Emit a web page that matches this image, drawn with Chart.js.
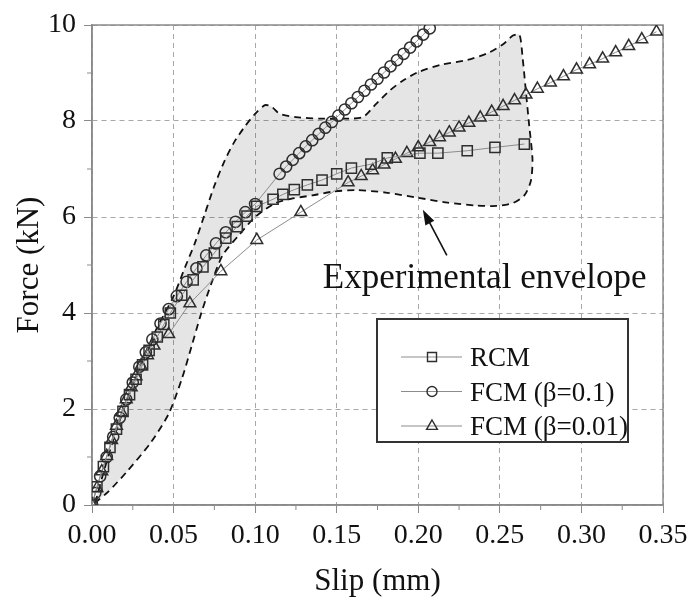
<!DOCTYPE html>
<html>
<head>
<meta charset="utf-8">
<script src="https://cdn.jsdelivr.net/npm/chart.js@4.4.1/dist/chart.umd.min.js"></script>
<style>
body { margin: 0; background: #fff; }
#wrap { width: 696px; height: 604px; }
</style>
</head>
<body>
<div id="wrap"><canvas id="myChart"></canvas></div>
<script>
// RCM (squares)
var rcmSlip = [0, 0.003, 0.007, 0.011, 0.015, 0.019, 0.023, 0.027, 0.031, 0.035, 0.040, 0.044, 0.048, 0.055, 0.062, 0.068, 0.075, 0.082, 0.089, 0.095, 0.101, 0.111, 0.117, 0.124, 0.132, 0.141, 0.150, 0.159, 0.171, 0.181, 0.201, 0.212, 0.230, 0.247, 0.265];
var rcmForce = [0, 0.38, 0.80, 1.20, 1.58, 1.95, 2.30, 2.62, 2.92, 3.22, 3.50, 3.76, 4.00, 4.37, 4.69, 4.96, 5.25, 5.56, 5.80, 6.02, 6.22, 6.37, 6.47, 6.57, 6.67, 6.77, 6.90, 7.02, 7.10, 7.23, 7.33, 7.33, 7.38, 7.45, 7.52];

// FCM beta=0.1 (circles)
var fcm1Slip = [0, 0.002, 0.005, 0.009, 0.013, 0.017, 0.021, 0.025, 0.029, 0.033, 0.037, 0.042, 0.047, 0.052, 0.058, 0.064, 0.070, 0.076, 0.082, 0.088, 0.094, 0.100, 0.115, 0.119, 0.123, 0.127, 0.131, 0.135, 0.139, 0.143, 0.147, 0.151, 0.155, 0.159, 0.163, 0.167, 0.171, 0.175, 0.179, 0.183, 0.187, 0.191, 0.195, 0.199, 0.203, 0.207];
var fcm1Force = [0, 0.25, 0.60, 1.00, 1.42, 1.82, 2.20, 2.55, 2.88, 3.18, 3.45, 3.78, 4.08, 4.35, 4.65, 4.93, 5.20, 5.45, 5.68, 5.90, 6.10, 6.27, 6.90, 7.05, 7.19, 7.33, 7.47, 7.60, 7.73, 7.86, 7.98, 8.11, 8.24, 8.37, 8.50, 8.63, 8.76, 8.88, 9.01, 9.14, 9.27, 9.40, 9.53, 9.66, 9.80, 9.93];

// FCM beta=0.01 (triangles)
var fcm2Slip = [0, 0.003, 0.006, 0.009, 0.012, 0.015, 0.018, 0.021, 0.024, 0.027, 0.030, 0.034, 0.038, 0.047, 0.060, 0.079, 0.101, 0.128, 0.157, 0.165, 0.172, 0.179, 0.186, 0.193, 0.200, 0.207, 0.213, 0.219, 0.225, 0.231, 0.238, 0.245, 0.252, 0.259, 0.266, 0.273, 0.281, 0.289, 0.297, 0.305, 0.313, 0.321, 0.329, 0.337, 0.346];
var fcm2Force = [0, 0.35, 0.70, 1.02, 1.35, 1.65, 1.93, 2.20, 2.45, 2.68, 2.90, 3.12, 3.32, 3.56, 4.20, 4.87, 5.52, 6.10, 6.72, 6.85, 6.97, 7.09, 7.21, 7.33, 7.45, 7.56, 7.66, 7.76, 7.86, 7.96, 8.07, 8.19, 8.31, 8.43, 8.55, 8.67, 8.80, 8.93, 9.07, 9.18, 9.30, 9.43, 9.56, 9.70, 9.86];

// experimental envelope outline (closed)
var envSlip = [0.002, 0.006, 0.012, 0.020, 0.030, 0.040, 0.050, 0.057, 0.063, 0.069, 0.075, 0.081, 0.087, 0.094, 0.100, 0.106, 0.110, 0.115, 0.125, 0.140, 0.155, 0.166, 0.174, 0.182, 0.190, 0.200, 0.215, 0.230, 0.243, 0.252, 0.258, 0.262, 0.264, 0.266, 0.268, 0.270, 0.269, 0.265, 0.258, 0.248, 0.235, 0.218, 0.200, 0.180, 0.162, 0.148, 0.135, 0.122, 0.112, 0.100, 0.090, 0.080, 0.073, 0.067, 0.061, 0.055, 0.047, 0.036, 0.021, 0.010, 0.002];
var envForce = [0.05, 0.55, 1.25, 2.05, 2.95, 3.70, 4.35, 4.95, 5.45, 6.05, 6.65, 7.15, 7.55, 7.90, 8.15, 8.33, 8.30, 8.15, 8.08, 8.05, 8.05, 8.08, 8.35, 8.62, 8.83, 9.02, 9.18, 9.27, 9.42, 9.60, 9.78, 9.80, 9.30, 8.60, 7.90, 7.20, 6.75, 6.45, 6.29, 6.23, 6.24, 6.30, 6.40, 6.51, 6.56, 6.53, 6.45, 6.38, 6.28, 6.00, 5.62, 5.20, 4.60, 4.00, 3.30, 2.62, 1.90, 1.30, 0.68, 0.28, 0.05];

var seriesNames = ['RCM', 'FCM (\u03b2=0.1)', 'FCM (\u03b2=0.01)'];
var seriesStyles = ['rect', 'circle', 'triangle'];
var xTicks = [0, 0.05, 0.10, 0.15, 0.20, 0.25, 0.30, 0.35];
var yTicks = [0, 2, 4, 6, 8, 10];
var noteText = 'Experimental envelope';
var notePos = [0.1415, 4.52];
var arrowTail = [0.2175, 5.2];
var arrowTip = [0.2028, 6.15];

var serif = "'Liberation Serif', 'Times New Roman', serif";
var markColor = '#2e2e2e';
var lineColor = '#8c8c8c';
var axisColor = '#8a8a8a';
var gridColor = '#a8a8a8';

function pts(xs, ys) {
	return xs.map(function (x, i) { return { x: x, y: ys[i] }; });
}

function drawMark(ctx, style, x, y) {
	ctx.beginPath();
	if (style === 'rect') {
		ctx.rect(x - 4.5, y - 4.5, 9, 9);
	} else if (style === 'circle') {
		ctx.arc(x, y, 5, 0, Math.PI * 2);
	} else {
		ctx.moveTo(x, y - 6);
		ctx.lineTo(x + 5.4, y + 3.4);
		ctx.lineTo(x - 5.4, y + 3.4);
		ctx.closePath();
	}
	ctx.stroke();
}

var framePlugin = {
	id: 'frame',
	beforeDatasetsDraw: function (chart) {
		var ctx = chart.ctx, a = chart.chartArea;
		var xs = chart.scales.x, ys = chart.scales.y;
		ctx.save();
		ctx.strokeStyle = axisColor;
		ctx.lineWidth = 1.5;
		ctx.strokeRect(a.left, a.top, a.right - a.left, a.bottom - a.top);
		// minor ticks
		ctx.lineWidth = 1;
		ctx.beginPath();
		for (var i = 0; i < xTicks.length - 1; i++) {
			var px = xs.getPixelForValue((xTicks[i] + xTicks[i + 1]) / 2);
			ctx.moveTo(px, a.bottom);
			ctx.lineTo(px, a.bottom + 5);
		}
		for (var j = 0; j < yTicks.length - 1; j++) {
			var py = ys.getPixelForValue((yTicks[j] + yTicks[j + 1]) / 2);
			ctx.moveTo(a.left, py);
			ctx.lineTo(a.left - 5, py);
		}
		ctx.stroke();
		ctx.restore();
	}
};

var notesPlugin = {
	id: 'notes',
	afterDatasetsDraw: function (chart) {
		var ctx = chart.ctx, a = chart.chartArea;
		var xs = chart.scales.x, ys = chart.scales.y;
		ctx.save();
		// annotation text
		ctx.fillStyle = '#111';
		ctx.font = '35px ' + serif;
		ctx.textBaseline = 'alphabetic';
		ctx.textAlign = 'left';
		ctx.fillText(noteText, xs.getPixelForValue(notePos[0]), ys.getPixelForValue(notePos[1]));
		// arrow
		var tx = xs.getPixelForValue(arrowTail[0]), ty = ys.getPixelForValue(arrowTail[1]);
		var hx = xs.getPixelForValue(arrowTip[0]), hy = ys.getPixelForValue(arrowTip[1]);
		var ang = Math.atan2(hy - ty, hx - tx);
		ctx.strokeStyle = '#111';
		ctx.lineWidth = 1.6;
		ctx.beginPath();
		ctx.moveTo(tx, ty);
		ctx.lineTo(hx - Math.cos(ang) * 10, hy - Math.sin(ang) * 10);
		ctx.stroke();
		ctx.beginPath();
		ctx.moveTo(hx, hy);
		ctx.lineTo(hx - Math.cos(ang) * 15 + Math.sin(ang) * 5, hy - Math.sin(ang) * 15 - Math.cos(ang) * 5);
		ctx.lineTo(hx - Math.cos(ang) * 15 - Math.sin(ang) * 5, hy - Math.sin(ang) * 15 + Math.cos(ang) * 5);
		ctx.closePath();
		ctx.fillStyle = '#111';
		ctx.fill();
		// legend box
		var bx = a.left + 285, by = a.top + 294, bw = 251, bh = 123;
		ctx.fillStyle = '#fff';
		ctx.fillRect(bx, by, bw, bh);
		ctx.strokeStyle = '#333';
		ctx.lineWidth = 2;
		ctx.strokeRect(bx, by, bw, bh);
		ctx.font = '27px ' + serif;
		for (var i = 0; i < seriesNames.length; i++) {
			var ry = by + 38 + i * 34.5;
			ctx.strokeStyle = lineColor;
			ctx.lineWidth = 1;
			ctx.beginPath();
			ctx.moveTo(bx + 24, ry);
			ctx.lineTo(bx + 85, ry);
			ctx.stroke();
			ctx.strokeStyle = markColor;
			ctx.lineWidth = 1.4;
			ctx.fillStyle = '#fff';
			drawMark(ctx, seriesStyles[i], bx + 55, ry);
			ctx.fillStyle = '#111';
			ctx.fillText(seriesNames[i], bx + 93, ry + 9);
		}
		ctx.restore();
	}
};

function lineSet(label, xs, ys, style, r) {
	return {
		label: label,
		data: pts(xs, ys),
		showLine: true,
		borderColor: lineColor,
		borderWidth: 1,
		pointStyle: style,
		pointRadius: r,
		pointBorderColor: markColor,
		pointBorderWidth: 1.5,
		pointBackgroundColor: 'rgba(0,0,0,0)',
		fill: false,
		tension: 0,
		order: 1
	};
}

document.addEventListener('DOMContentLoaded', function (event) {
	var ctx = document.getElementById('myChart');
	var myChart = new Chart(ctx, {
		type: 'scatter',
		data: {
			datasets: [
				{
					label: 'envelope',
					data: pts(envSlip, envForce),
					showLine: true,
					borderColor: '#111',
					borderWidth: 1.8,
					borderDash: [7, 5],
					backgroundColor: 'rgba(0,0,0,0.1)',
					fill: 'shape',
					pointRadius: 0,
					tension: 0.25,
					order: 5
				},
				lineSet(seriesNames[0], rcmSlip, rcmForce, 'rect', 7.2),
				lineSet(seriesNames[1], fcm1Slip, fcm1Force, 'circle', 5.6),
				lineSet(seriesNames[2], fcm2Slip, fcm2Force, 'triangle', 6.8)
			]
		},
		options: {
			responsive: true,
			maintainAspectRatio: false,
			animation: false,
			devicePixelRatio: 1,
			layout: { padding: { left: 0, right: 33, top: 25, bottom: 0 } },
			plugins: {
				legend: { display: false },
				tooltip: { enabled: false }
			},
			scales: {
				x: {
					type: 'linear',
					min: 0,
					max: 0.35,
					afterFit: function (s) { s.height = 99; },
					afterBuildTicks: function (s) { s.ticks = xTicks.map(function (v) { return { value: v }; }); },
					ticks: {
						color: '#111',
						font: { family: serif, size: 28 },
						padding: 6,
						maxRotation: 0,
						autoSkip: false,
						callback: function (v) { return Number(v).toFixed(2); }
					},
					grid: {
						color: gridColor,
						lineWidth: 1,
						tickLength: 8,
						tickColor: axisColor,
						tickBorderDash: []
					},
					border: { display: true, color: axisColor, width: 1.5, dash: [5, 4] },
					title: {
						display: true,
						text: 'Slip (mm)',
						color: '#111',
						font: { family: serif, size: 31 },
						padding: { top: 0, bottom: 4 }
					}
				},
				y: {
					type: 'linear',
					min: 0,
					max: 10,
					afterFit: function (s) { s.width = 92; },
					afterBuildTicks: function (s) { s.ticks = yTicks.map(function (v) { return { value: v }; }); },
					ticks: {
						color: '#111',
						font: { family: serif, size: 28 },
						padding: 8,
						autoSkip: false
					},
					grid: {
						color: gridColor,
						lineWidth: 1,
						tickLength: 8,
						tickColor: axisColor,
						tickBorderDash: []
					},
					border: { display: true, color: axisColor, width: 1.5, dash: [5, 4] },
					title: {
						display: true,
						text: 'Force (kN)',
						color: '#111',
						font: { family: serif, size: 31 },
						padding: { top: 11, bottom: 0 }
					}
				}
			}
		},
		plugins: [framePlugin, notesPlugin]
	});
});
</script>
</body>
</html>
